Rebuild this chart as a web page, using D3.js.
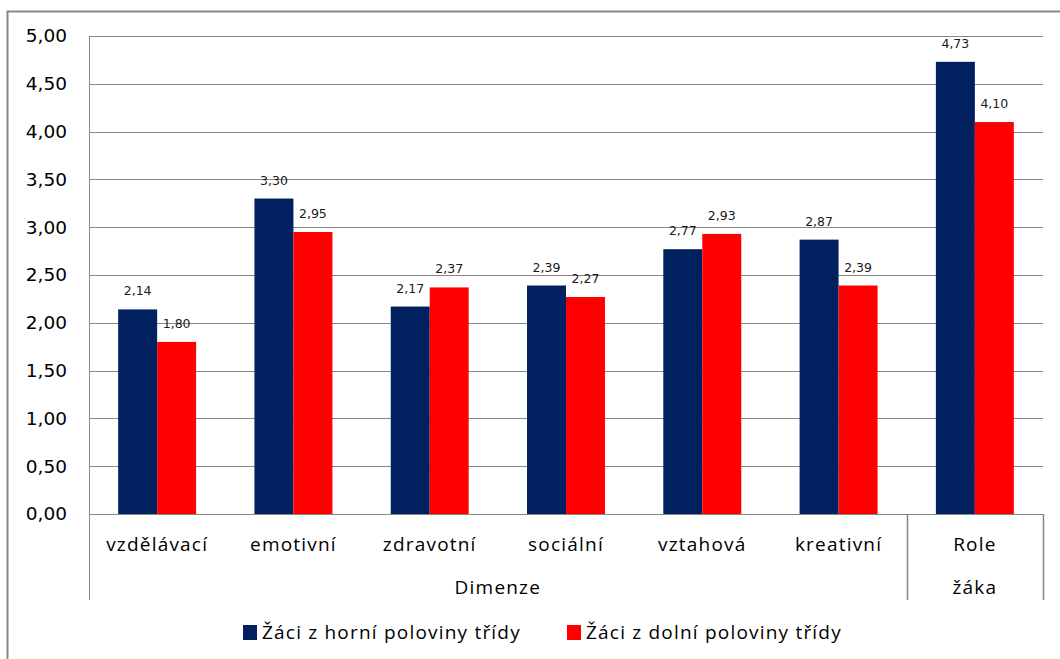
<!DOCTYPE html>
<html>
<head>
<meta charset="utf-8">
<script src="https://cdn.jsdelivr.net/npm/d3@7"></script>
<style>
  html, body { margin: 0; padding: 0; background: #fff; }
  svg { display: block; }
</style>
</head>
<body>
<svg id="chart" width="1060" height="659"></svg>
<script>
// Categories and series values
const categories = ["vzdělávací", "emotivní", "zdravotní", "sociální", "vztahová", "kreativní", "Role žáka"];
const seriesNames = ["Žáci z horní poloviny třídy", "Žáci z dolní poloviny třídy"];
const upperHalf = [2.14, 3.30, 2.17, 2.39, 2.77, 2.87, 4.73];
const lowerHalf = [1.80, 2.95, 2.37, 2.27, 2.93, 2.39, 4.10];
const yTicks = [0, 0.5, 1, 1.5, 2, 2.5, 3, 3.5, 4, 4.5, 5];
const groups = [
  { label: "Dimenze", from: 0, to: 5 }
];

const colors = ["#002060", "#ff0000"];
const gridColor = "#878787";
const fmt = v => d3.format(".2f")(v).replace(".", ",");

const svg = d3.select("#chart");

// Outer frame of the chart
svg.append("path")
  .attr("d", "M7.5,660 L7.5,11.5 L1062,11.5")
  .attr("fill", "none")
  .attr("stroke", gridColor)
  .attr("stroke-width", 2);

const plot = { left: 89, right: 1043, top: 36, bottom: 514 };

const y = d3.scaleLinear().domain([0, 5]).range([plot.bottom, plot.top]);
const x = d3.scaleBand().domain(categories)
  .range([plot.left, plot.right])
  .paddingInner(0.428).paddingOuter(0.214);
const xs = d3.scaleBand().domain([0, 1]).range([0, x.bandwidth()]);

// Horizontal gridlines
svg.append("g").selectAll("line").data(yTicks).join("line")
  .attr("x1", plot.left).attr("x2", plot.right)
  .attr("y1", d => Math.round(y(d)) + 0.5).attr("y2", d => Math.round(y(d)) + 0.5)
  .attr("stroke", gridColor).attr("stroke-width", 1);

// Y axis labels
const yAxis = d3.axisLeft(y).tickValues(yTicks).tickFormat(fmt).tickSize(0).tickPadding(22);
const gy = svg.append("g").attr("transform", `translate(${plot.left},0)`).call(yAxis);
gy.select(".domain").remove();
gy.selectAll("text")
  .attr("font-family", "DejaVu Sans, Verdana, sans-serif")
  .attr("font-size", 18.5)
  .attr("fill", "#000");

// Bars
const series = [upperHalf, lowerHalf];
series.forEach((vals, si) => {
  svg.append("g").selectAll("rect").data(vals).join("rect")
    .attr("x", (d, i) => x(categories[i]) + xs(si))
    .attr("width", xs.bandwidth())
    .attr("y", d => y(d))
    .attr("height", d => y(0) - y(d))
    .attr("fill", colors[si]);
});

// Value labels
series.forEach((vals, si) => {
  svg.append("g").selectAll("text").data(vals).join("text")
    .attr("x", (d, i) => x(categories[i]) + xs(si) + xs.bandwidth() / 2)
    .attr("y", d => y(d) - 14)
    .attr("text-anchor", "middle")
    .attr("font-family", "DejaVu Sans, Verdana, sans-serif")
    .attr("font-size", 12.5)
    .attr("fill", "#1a1a1a")
    .text(fmt);
});

// Category axis: left line and group separators
const axisBottom = 600;
const sepX = x(categories[6]) - x.step() * x.paddingInner() / 2;
svg.append("line")
  .attr("x1", plot.left + 0.5).attr("x2", plot.left + 0.5)
  .attr("y1", plot.top).attr("y2", axisBottom)
  .attr("stroke", gridColor);
[sepX, plot.right].forEach(xx => {
  svg.append("line")
    .attr("x1", Math.round(xx) + 0.5).attr("x2", Math.round(xx) + 0.5)
    .attr("y1", plot.bottom).attr("y2", axisBottom)
    .attr("stroke", gridColor).attr("stroke-width", 1.5);
});

const catFont = "Open Sans, Noto Sans, sans-serif";
const catSize = 19;
const catSpacing = 1.2;
// Category labels (the last one spans two lines)
svg.append("g").selectAll("text").data(categories).join("text")
  .attr("x", d => x(d) + x.bandwidth() / 2)
  .attr("y", 551)
  .attr("text-anchor", "middle")
  .attr("font-family", catFont)
  .attr("font-size", catSize)
  .attr("letter-spacing", catSpacing)
  .attr("fill", "#000")
  .each(function (d) {
    const parts = d.split(" ");
    const t = d3.select(this);
    if (parts.length > 1) {
      parts.forEach((p, k) => {
        t.append("tspan")
          .attr("x", x(d) + x.bandwidth() / 2)
          .attr("dy", k === 0 ? 0 : 43)
          .text(p);
      });
    } else {
      t.text(d);
    }
  });

// Group label
groups.forEach(g => {
  svg.append("text")
    .attr("x", (plot.left + sepX) / 2)
    .attr("y", 594)
    .attr("text-anchor", "middle")
    .attr("font-family", catFont)
    .attr("font-size", catSize)
    .attr("letter-spacing", catSpacing)
    .attr("fill", "#000")
    .text(g.label);
});

// Legend
const legendItems = [
  { name: seriesNames[0], color: colors[0], x: 243 },
  { name: seriesNames[1], color: colors[1], x: 567 }
];
const lg = svg.append("g");
legendItems.forEach(it => {
  lg.append("rect")
    .attr("x", it.x).attr("y", 625)
    .attr("width", 14).attr("height", 15)
    .attr("fill", it.color);
  lg.append("text")
    .attr("x", it.x + 19).attr("y", 639)
    .attr("font-family", catFont)
    .attr("font-size", catSize)
    .attr("letter-spacing", catSpacing)
    .attr("fill", "#000")
    .text(it.name);
});
</script>
</body>
</html>
